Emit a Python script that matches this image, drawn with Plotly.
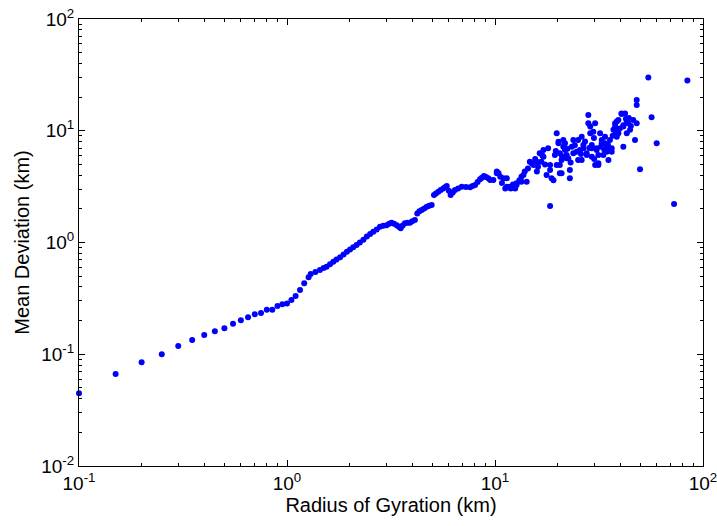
import plotly.graph_objects as go

# Early regular-spaced points (small radii)
x_low = [0.10, 0.15, 0.20, 0.25, 0.30, 0.35, 0.40, 0.45, 0.50, 0.55, 0.60, 0.65, 0.70, 0.75,
         0.80, 0.85, 0.90, 0.95, 1.00, 1.05, 1.10, 1.155, 1.21, 1.27]
y_low = [0.0447, 0.0665, 0.0847, 0.100, 0.1185, 0.134, 0.149, 0.161, 0.171, 0.187, 0.202, 0.214,
         0.228, 0.234, 0.250, 0.250, 0.270, 0.280, 0.285, 0.306, 0.332, 0.376, 0.431, 0.489]

# Continuous-looking curve section
x_mid = [1.30, 1.37, 1.44, 1.50, 1.55, 1.61, 1.67, 1.73, 1.80, 1.87, 1.94, 2.01, 2.08, 2.16, 2.24,
         2.33, 2.42, 2.51, 2.60, 2.70, 2.80, 2.90, 3.01, 3.10, 3.18, 3.27, 3.37, 3.45, 3.52, 3.60,
         3.69, 3.80, 3.90, 4.00, 4.12, 4.23, 4.33, 4.44, 4.57, 4.70, 4.83, 4.96, 5.09, 5.20, 5.34,
         5.48, 5.64, 5.75, 5.86, 6.00, 6.12, 6.27, 6.42, 6.65, 6.92, 7.25, 7.59, 7.80, 8.02, 8.25,
         8.47, 8.65, 8.85, 9.05, 9.29, 9.47, 9.82, 10.2]
y_mid = [0.523, 0.545, 0.567, 0.590, 0.607, 0.640, 0.673, 0.705, 0.738, 0.780, 0.828, 0.865, 0.906,
         0.950, 1.00, 1.06, 1.13, 1.19, 1.25, 1.31, 1.38, 1.41, 1.43, 1.47, 1.50, 1.47, 1.43, 1.38,
         1.34, 1.42, 1.49, 1.50, 1.50, 1.55, 1.59, 1.82, 1.90, 1.95, 2.02, 2.09, 2.13, 2.17, 2.66,
         2.75, 2.85, 2.95, 3.05, 3.12, 3.20, 2.90, 2.66, 2.80, 2.95, 3.05, 3.16, 3.14, 3.12, 3.20,
         3.27, 3.48, 3.68, 3.80, 3.94, 3.85, 3.75, 3.62, 3.62, 4.16]

# Scattered cloud at large radii
x_cloud = [10.2, 10.4, 10.6, 11.0, 11.2, 11.4, 11.4, 11.8, 11.9, 12.5, 12.7, 12.7, 13.4, 13.4,
           13.7, 13.9, 14.2, 14.7, 15.0, 15.3, 15.9, 15.9, 16.1, 16.4, 16.7, 17.1, 17.1, 17.7,
           18.0, 18.4, 18.4, 18.7, 18.4, 19.4, 19.8, 19.8, 20.2, 20.2, 20.5, 20.5, 20.5, 20.9,
           20.9, 21.3, 21.3, 21.7, 21.7, 22.1, 22.1, 22.5, 22.9, 22.9, 23.4, 23.8, 23.8, 24.7,
           25.1, 25.1, 25.6, 26.1, 26.1, 26.6, 26.6, 27.6, 27.6, 28.1, 28.1, 28.7, 28.7, 29.2,
           29.2, 29.2, 29.7, 30.3, 30.3, 30.8, 30.8, 31.4, 31.4, 31.4, 32.0, 32.6, 32.6, 33.2,
           33.8, 33.8, 34.4, 34.4, 35.1, 35.7, 36.4, 36.4, 37.1, 37.8, 37.8, 38.5, 38.5, 39.2,
           39.2, 40.6, 40.6, 41.4, 41.4, 41.4, 42.2, 43.0, 43.0, 43.7, 44.6, 46.2, 47.1, 48.0,
           48.0, 48.0, 49.8,
           10.8, 12.2, 13.1, 14.4, 15.6, 16.9, 17.4, 19.1, 21.0, 22.3, 24.2, 25.9, 27.1, 28.4,
           29.9, 32.3, 34.9, 36.8, 39.8, 42.6, 45.0, 19.6, 23.1, 30.0, 33.5, 38.0, 44.0]
y_cloud = [4.31, 4.16, 3.88, 3.75, 3.05, 3.75, 3.16, 3.16, 3.05, 3.05, 3.39, 3.27, 3.88, 3.50,
           4.02, 4.31, 3.50, 5.28, 5.12, 4.94, 4.31, 5.28, 4.77, 6.28, 5.28, 5.86, 6.73, 4.02,
           6.97, 4.46, 4.94, 3.75, 2.12, 6.07, 9.48, 4.94, 7.73, 7.98, 4.94, 6.28, 4.16, 4.16,
           5.47, 8.26, 7.19, 6.73, 7.73, 5.66, 6.07, 5.66, 4.46, 3.75, 7.19, 8.26, 6.28, 6.50,
           5.47, 8.26, 6.73, 8.85, 5.47, 6.97, 7.45, 6.28, 6.07, 13.8, 11.7, 10.9, 9.48, 7.45,
           6.97, 5.86, 9.80, 11.7, 4.94, 6.73, 6.97, 4.94, 6.07, 5.12, 9.48, 7.73, 8.26, 6.07,
           8.85, 7.73, 6.97, 6.50, 5.47, 8.26, 6.50, 6.97, 10.2, 11.7, 10.9, 8.85, 12.1, 12.5,
           9.48, 14.3, 14.1, 10.9, 7.19, 11.2, 14.3, 9.48, 12.1, 11.7, 10.2, 12.5, 8.26, 18.8,
           17.0, 11.7, 4.52,
           3.40, 3.30, 3.60, 4.60, 5.60, 6.00, 5.00, 3.60, 5.90, 6.90, 7.40, 6.20, 8.00, 7.00,
           8.60, 7.20, 7.50, 9.00, 10.5, 12.8, 11.0, 6.60, 5.20, 5.60, 6.80, 9.80, 13.0]

# Isolated outliers
x_out = [54.6, 56.6, 59.9, 72.6, 84.1]
y_out = [30.0, 13.2, 7.73, 2.21, 28.1]

x_all = x_low + x_mid + x_cloud + x_out
y_all = y_low + y_mid + y_cloud + y_out

x_major = [0.1, 1, 10, 100]
x_major_text = ["10<sup>-1</sup>", "10<sup>0</sup>", "10<sup>1</sup>", "10<sup>2</sup>"]
y_major = [0.01, 0.1, 1, 10, 100]
y_major_text = ["10<sup>-2</sup>", "10<sup>-1</sup>", "10<sup>0</sup>", "10<sup>1</sup>", "10<sup>2</sup>"]

x_minor = [m * d for d in (0.1, 1, 10) for m in range(2, 10)]
y_minor = [m * d for d in (0.01, 0.1, 1, 10) for m in range(2, 10)]

fig = go.Figure()
fig.add_trace(go.Scatter(
    x=x_all, y=y_all, mode="markers",
    marker=dict(color="#0000FF", size=6, line=dict(width=0)),
    showlegend=False,
    cliponaxis=False,
))

font_family = "Liberation Sans, Arial, sans-serif"
axis_common = dict(
    type="log",
    automargin=False,
    ticklabeloverflow="allow",
    showgrid=False, zeroline=False,
    showline=True, linecolor="black", linewidth=1,
    mirror="allticks",
    ticks="inside", ticklen=6, tickcolor="black",
    tickfont=dict(family=font_family, size=19, color="black"),
)

fig.update_xaxes(
    **axis_common,
    range=[-1, 2],
    tickmode="array", tickvals=x_major, ticktext=x_major_text,
    minor=dict(tickmode="array", tickvals=x_minor, ticks="inside", ticklen=3, tickcolor="black", showgrid=False),
    title=dict(text="Radius of Gyration (km)", font=dict(family=font_family, size=20, color="black"), standoff=4),
)
fig.update_yaxes(
    **axis_common,
    range=[-2, 2],
    tickmode="array", tickvals=y_major, ticktext=y_major_text,
    minor=dict(tickmode="array", tickvals=y_minor, ticks="inside", ticklen=3, tickcolor="black", showgrid=False),
    title=dict(text="Mean Deviation (km)", font=dict(family=font_family, size=20, color="black"), standoff=6),
)

fig.update_layout(
    width=717, height=526,
    margin=dict(l=79, r=14, t=19, b=60),
    paper_bgcolor="white", plot_bgcolor="white",
)

fig.write_html("out.html")
